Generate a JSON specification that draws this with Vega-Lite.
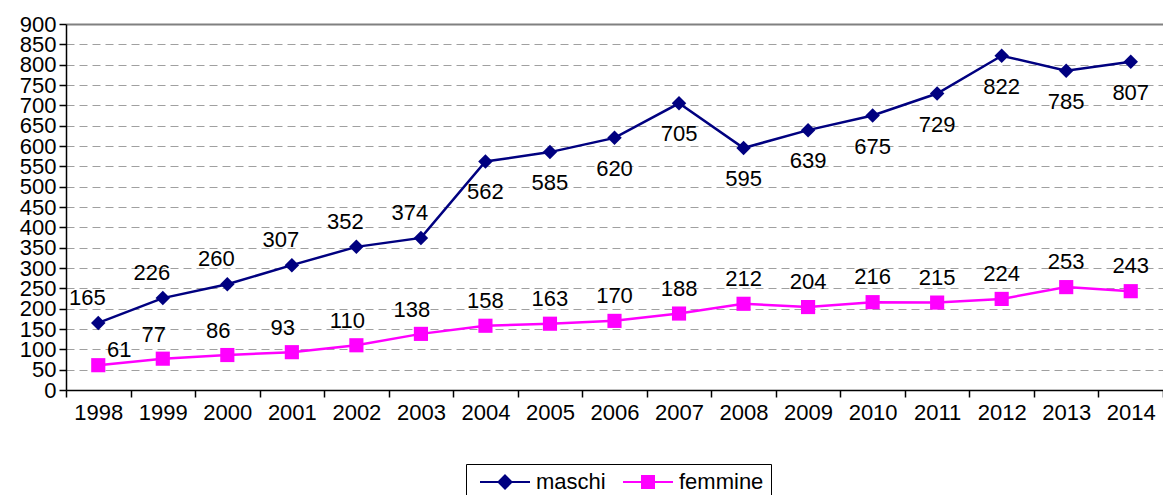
{
  "$schema": "https://vega.github.io/schema/vega-lite/v6.json",
  "width": 1097,
  "height": 366,
  "autosize": {"type": "none"},
  "padding": {"left": 66, "top": 24, "right": 0, "bottom": 105},
  "background": "white",
  "config": {
    "font": "Liberation Sans",
    "view": {"stroke": null},
    "legend": {
      "orient": "none",
      "legendX": 400,
      "legendY": 440,
      "direction": "horizontal",
      "labelFont": "Liberation Sans",
      "labelFontSize": 22,
      "labelColor": "black",
      "symbolSize": 100,
      "symbolStrokeWidth": 2,
      "symbolOffset": 21,
      "labelOffset": 20,
      "columnPadding": 10,
      "padding": 7,
      "strokeColor": "black",
      "fillColor": "white"
    }
  },
  "data": {
    "values": [
      {"year": "1998", "serie": "maschi", "value": 165},
      {"year": "1999", "serie": "maschi", "value": 226},
      {"year": "2000", "serie": "maschi", "value": 260},
      {"year": "2001", "serie": "maschi", "value": 307},
      {"year": "2002", "serie": "maschi", "value": 352},
      {"year": "2003", "serie": "maschi", "value": 374},
      {"year": "2004", "serie": "maschi", "value": 562},
      {"year": "2005", "serie": "maschi", "value": 585},
      {"year": "2006", "serie": "maschi", "value": 620},
      {"year": "2007", "serie": "maschi", "value": 705},
      {"year": "2008", "serie": "maschi", "value": 595},
      {"year": "2009", "serie": "maschi", "value": 639},
      {"year": "2010", "serie": "maschi", "value": 675},
      {"year": "2011", "serie": "maschi", "value": 729},
      {"year": "2012", "serie": "maschi", "value": 822},
      {"year": "2013", "serie": "maschi", "value": 785},
      {"year": "2014", "serie": "maschi", "value": 807},
      {"year": "1998", "serie": "femmine", "value": 61},
      {"year": "1999", "serie": "femmine", "value": 77},
      {"year": "2000", "serie": "femmine", "value": 86},
      {"year": "2001", "serie": "femmine", "value": 93},
      {"year": "2002", "serie": "femmine", "value": 110},
      {"year": "2003", "serie": "femmine", "value": 138},
      {"year": "2004", "serie": "femmine", "value": 158},
      {"year": "2005", "serie": "femmine", "value": 163},
      {"year": "2006", "serie": "femmine", "value": 170},
      {"year": "2007", "serie": "femmine", "value": 188},
      {"year": "2008", "serie": "femmine", "value": 212},
      {"year": "2009", "serie": "femmine", "value": 204},
      {"year": "2010", "serie": "femmine", "value": 216},
      {"year": "2011", "serie": "femmine", "value": 215},
      {"year": "2012", "serie": "femmine", "value": 224},
      {"year": "2013", "serie": "femmine", "value": 253},
      {"year": "2014", "serie": "femmine", "value": 243}
    ]
  },
  "encoding": {
    "x": {
      "field": "year",
      "type": "ordinal",
      "bandPosition": 0.5,
      "scale": {"type": "band", "paddingInner": 0, "paddingOuter": 0},
      "axis": {
        "title": null,
        "labelAngle": 0,
        "labelFont": "Liberation Sans",
        "labelFontSize": 22,
        "labelColor": "black",
        "labelOverlap": false,
        "tickBand": "extent",
        "tickColor": "black",
        "tickSize": 7,
        "tickWidth": 1.5,
        "labelPadding": 5,
        "domainColor": "black",
        "domainWidth": 1.5,
        "grid": false
      }
    },
    "y": {
      "field": "value",
      "type": "quantitative",
      "scale": {"domain": [0, 900], "nice": false},
      "axis": {
        "title": null,
        "values": [0, 50, 100, 150, 200, 250, 300, 350, 400, 450, 500, 550, 600, 650, 700, 750, 800, 850, 900],
        "labelFont": "Liberation Sans",
        "labelFontSize": 22,
        "labelColor": "black",
        "labelOverlap": false,
        "labelPadding": 3,
        "tickColor": "black",
        "tickSize": 7,
        "tickWidth": 1.5,
        "domainColor": "black",
        "domainWidth": 1.5,
        "grid": true,
        "gridColor": {"condition": {"test": "datum.value === 900", "value": "#808080"}, "value": "#a0a0a0"},
        "gridWidth": {"condition": {"test": "datum.value === 900", "value": 2}, "value": 1},
        "gridDash": {"condition": {"test": "datum.value === 900", "value": []}, "value": [8, 5]}
      }
    }
  },
  "layer": [
    {
      "mark": {"type": "point", "filled": true, "strokeWidth": 2, "opacity": 0},
      "encoding": {
        "fill": {
          "field": "serie",
          "type": "nominal",
          "title": null,
          "scale": {"domain": ["maschi", "femmine"], "range": ["#000080", "#FF00FF"]},
          "legend": {"encode": {"symbols": {"update": {"opacity": {"value": 1}}}}}
        },
        "stroke": {
          "field": "serie",
          "type": "nominal",
          "title": null,
          "scale": {"domain": ["maschi", "femmine"], "range": ["#000080", "#FF00FF"]},
          "legend": {"encode": {"symbols": {"update": {"opacity": {"value": 1}}}}}
        },
        "shape": {
          "field": "serie",
          "type": "nominal",
          "title": null,
          "scale": {
            "domain": ["maschi", "femmine"],
            "range": ["M-5,0H5M0,-1.3L1.3,0L0,1.3L-1.3,0Z", "M-5,0H5M-1.2,-1.2H1.2V1.2H-1.2Z"]
          },
          "legend": {"encode": {"symbols": {"update": {"opacity": {"value": 1}}}}}
        }
      }
    },
    {
      "mark": {"type": "line", "strokeWidth": 2.5},
      "encoding": {
        "color": {
          "field": "serie",
          "type": "nominal",
          "scale": {"domain": ["maschi", "femmine"], "range": ["#000080", "#FF00FF"]},
          "legend": null
        }
      }
    },
    {
      "transform": [{"filter": "datum.serie === 'maschi'"}],
      "mark": {"type": "point", "shape": "diamond", "filled": true, "size": 210, "color": "#000080", "opacity": 1}
    },
    {
      "transform": [{"filter": "datum.serie === 'femmine'"}],
      "mark": {"type": "point", "shape": "square", "filled": true, "size": 200, "color": "#FF00FF", "opacity": 1}
    },
    {
      "transform": [{"filter": "datum.serie === 'maschi' && +datum.year <= 2003"}],
      "mark": {"type": "text", "fontSize": 22, "font": "Liberation Sans", "color": "black", "dx": -11, "dy": -25},
      "encoding": {"text": {"field": "value", "type": "quantitative"}}
    },
    {
      "transform": [{"filter": "datum.serie === 'maschi' && +datum.year >= 2004"}],
      "mark": {"type": "text", "fontSize": 22, "font": "Liberation Sans", "color": "black", "dx": 0, "dy": 31},
      "encoding": {"text": {"field": "value", "type": "quantitative"}}
    },
    {
      "transform": [{"filter": "datum.serie === 'femmine' && +datum.year === 1998"}],
      "mark": {"type": "text", "fontSize": 22, "font": "Liberation Sans", "color": "black", "dx": 21, "dy": -15},
      "encoding": {"text": {"field": "value", "type": "quantitative"}}
    },
    {
      "transform": [{"filter": "datum.serie === 'femmine' && +datum.year >= 1999 && +datum.year <= 2003"}],
      "mark": {"type": "text", "fontSize": 22, "font": "Liberation Sans", "color": "black", "dx": -9, "dy": -24},
      "encoding": {"text": {"field": "value", "type": "quantitative"}}
    },
    {
      "transform": [{"filter": "datum.serie === 'femmine' && +datum.year >= 2004"}],
      "mark": {"type": "text", "fontSize": 22, "font": "Liberation Sans", "color": "black", "dx": 0, "dy": -25},
      "encoding": {"text": {"field": "value", "type": "quantitative"}}
    }
  ]
}
